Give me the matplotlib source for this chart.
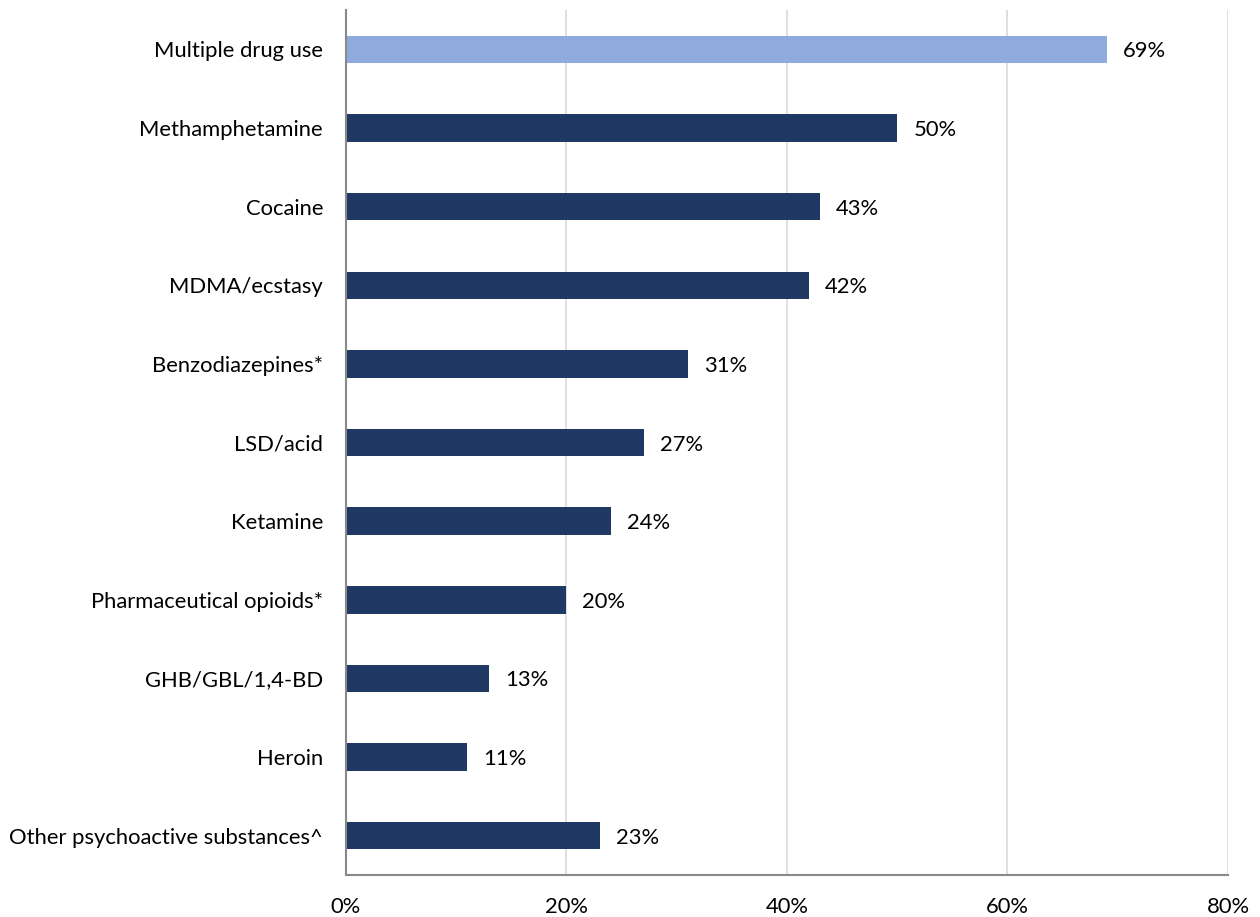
import numpy as np
import matplotlib.pyplot as plt

# categories top to bottom, share of respondents (%)
drugs = ["Multiple drug use", "Methamphetamine", "Cocaine", "MDMA/ecstasy",
         "Benzodiazepines*", "LSD/acid", "Ketamine", "Pharmaceutical opioids*",
         "GHB/GBL/1,4-BD", "Heroin", "Other psychoactive substances^"]
pct = [69, 50, 43, 42, 31, 27, 24, 20, 13, 11, 23]
xticks = [0, 20, 40, 60, 80]

plt.rcParams['font.family'] = ['Lato', 'DejaVu Sans']
fs = 15.8

fig = plt.figure(figsize=(12.6, 9.17), dpi=100)
ax = fig.add_axes([0.2746, 0.0458, 0.70, 0.9432])

y = np.arange(len(drugs))
colors = ['#8FAADC'] + ['#203864'] * (len(drugs) - 1)
ax.barh(y, pct, height=0.35, color=colors, zorder=3)

for yi, v in zip(y, pct):
    ax.text(v + 1.45, yi, f"{v}%", va='center_baseline', ha='left', fontsize=fs, color='black')

ax.set_ylim(len(drugs) - 0.5, -0.5)
ax.set_xlim(0, 80)
ax.set_yticks(y)
ax.set_yticklabels(drugs, fontsize=fs, va='center_baseline')
ax.set_xticks(xticks)
ax.set_xticklabels([f"{t}%" for t in xticks], fontsize=fs)
ax.tick_params(axis='both', length=0)
ax.tick_params(axis='y', pad=16.5)
ax.tick_params(axis='x', pad=16)

ax.grid(axis='x', color='#D9D9D9', linewidth=1.2, zorder=0)
for s in ['top', 'right']:
    ax.spines[s].set_visible(False)
ax.spines['left'].set_color('#898989')
ax.spines['bottom'].set_color('#898989')
ax.spines['left'].set_linewidth(1.5)
ax.spines['bottom'].set_linewidth(1.5)
ax.spines['left'].set_zorder(4)

fig.savefig('out.png', dpi=100, facecolor='white')
